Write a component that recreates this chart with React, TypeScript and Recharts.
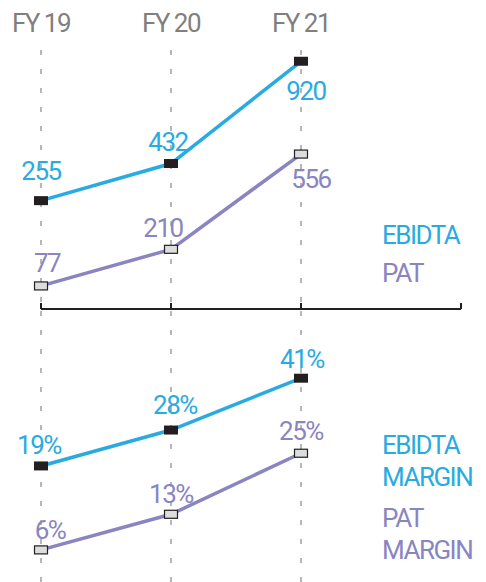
import React from "react"
import {
  LineChart,
  Line,
  XAxis,
  YAxis,
  ReferenceLine,
  Legend,
  LabelList,
} from "recharts"

const years = ["FY 19", "FY 20", "FY 21"]
const ebidta = [255, 432, 920]
const pat = [77, 210, 556]
const ebidtaMargin = [19, 28, 41]
const patMargin = [6, 13, 25]

const BLUE = "#29abe2"
const PURPLE = "#8985c1"
const INK = "#231f20"
const FONT = "Roboto, 'Noto Sans', sans-serif"
// x runs 0..2 for the three years, the bracket line goes a bit further right
const X_END = 420 / 130

const topData = years.map((year, i) => ({ i, year, ebidta: ebidta[i], pat: pat[i] }))
const bottomData = years.map((year, i) => ({
  i,
  year,
  ebidtaMargin: ebidtaMargin[i],
  patMargin: patMargin[i],
}))

const DarkDot = (props: any) => {
  const { cx, cy } = props
  if (cx == null || cy == null) return null
  return <rect x={cx - 7} y={cy - 4.5} width={14} height={9} fill={INK} />
}

const LightDot = (props: any) => {
  const { cx, cy } = props
  if (cx == null || cy == null) return null
  return (
    <rect
      x={cx - 6.5}
      y={cy - 4}
      width={13}
      height={8}
      fill="#dcdddd"
      stroke={INK}
      strokeWidth={1.2}
    />
  )
}

// per-point label nudges relative to the marker (negative dy = above)
const makeLabel =
  (color: string, values: number[], dy: number[], dx: number[], suffix = "") =>
  (props: any) => {
    const vb = props.viewBox || props
    const x = vb.x ?? props.x
    const y = vb.y ?? props.y
    const idx = values.indexOf(Number(props.value))
    return (
      <text
        x={x + (dx[idx] || 0)}
        y={y + (dy[idx] ?? -22)}
        fill={color}
        fontSize={26}
        fontFamily={FONT}
        letterSpacing={-1.5}
        textAnchor="middle"
        dominantBaseline="central"
      >
        {props.value}
        {suffix}
      </text>
    )
  }

const makeLegend = (lineHeight: number, gap: number) => (props: any) => (
  <div
    style={{
      fontFamily: FONT,
      fontSize: 26,
      letterSpacing: -1.5,
      lineHeight: `${lineHeight}px`,
      textAlign: "left",
    }}
  >
    {(props.payload || []).map((p: any, k: number) => (
      <div key={k} style={{ color: p.color, marginTop: k ? gap : 0 }}>
        {String(p.value)
          .split(" ")
          .map((w, j) => (
            <div key={j}>{w}</div>
          ))}
      </div>
    ))}
  </div>
)

const yearLines = (xAxisId: string, yAxisId: string) =>
  years.map((_, i) => (
    <ReferenceLine
      key={i}
      x={i}
      xAxisId={xAxisId}
      yAxisId={yAxisId}
      stroke="#6d6e71"
      strokeDasharray="5 14"
    />
  ))

export default function App() {
  return (
    <div style={{ position: "absolute", left: 0, top: 0, width: 486, height: 582 }}>
      <div style={{ position: "absolute", left: 0, top: 0 }}>
        <LineChart
          width={486}
          height={312}
          data={topData}
          margin={{ top: 0, right: 25, bottom: 3, left: 41 }}
        >
          <XAxis
            xAxisId="top"
            orientation="top"
            dataKey="i"
            type="number"
            domain={[0, X_END]}
            ticks={[0, 1, 2]}
            interval={0}
            height={50}
            axisLine={false}
            tickLine={false}
            tickSize={8}
            tickMargin={10}
            tick={{ fill: "#7f7f7f", fontSize: 26, fontFamily: FONT, letterSpacing: -1.5 }}
            tickFormatter={(i) => years[i] ?? ""}
          />
          <XAxis
            xAxisId="bracket"
            orientation="bottom"
            dataKey="i"
            type="number"
            domain={[0, X_END]}
            ticks={[0, 1, 2, X_END]}
            interval={0}
            mirror
            tick={() => <g />}
            tickSize={6}
            tickLine={{ stroke: INK, strokeWidth: 2 }}
            axisLine={{ stroke: INK, strokeWidth: 2.2 }}
          />
          <YAxis yAxisId="ebidta" hide domain={[-262, 973.7]} allowDataOverflow />
          <YAxis yAxisId="pat" hide domain={[-6.8, 934]} allowDataOverflow />
          {yearLines("top", "ebidta")}
          <Legend
            layout="vertical"
            align="center"
            verticalAlign="middle"
            content={makeLegend(38, 0)}
            wrapperStyle={{ left: 382, top: 216, width: 100 }}
          />
          <Line
            xAxisId="top"
            yAxisId="ebidta"
            dataKey="ebidta"
            name="EBIDTA"
            type="linear"
            stroke={BLUE}
            strokeWidth={3.5}
            dot={DarkDot}
            activeDot={false}
            isAnimationActive={false}
          >
            <LabelList
              dataKey="ebidta"
              content={makeLabel(BLUE, ebidta, [-30, -22, 30], [0, -3, 5])}
            />
          </Line>
          <Line
            xAxisId="top"
            yAxisId="pat"
            dataKey="pat"
            name="PAT"
            type="linear"
            stroke={PURPLE}
            strokeWidth={3.5}
            dot={LightDot}
            activeDot={false}
            isAnimationActive={false}
          >
            <LabelList
              dataKey="pat"
              content={makeLabel(PURPLE, pat, [-23, -21, 25], [6, -8, 10])}
            />
          </Line>
        </LineChart>
      </div>
      <div style={{ position: "absolute", left: 0, top: 309 }}>
        <LineChart
          width={486}
          height={273}
          data={bottomData}
          margin={{ top: 0, right: 25, bottom: 0, left: 41 }}
        >
          <XAxis
            xAxisId="b"
            hide
            dataKey="i"
            type="number"
            domain={[0, X_END]}
            ticks={[0, 1, 2]}
            interval={0}
          />
          <YAxis yAxisId="em" hide domain={[-10.1, 58.35]} allowDataOverflow />
          <YAxis yAxisId="pm" hide domain={[-0.31, 53.35]} allowDataOverflow />
          {yearLines("b", "em")}
          <Legend
            layout="vertical"
            align="center"
            verticalAlign="middle"
            content={makeLegend(31.5, 10)}
            wrapperStyle={{ left: 382, top: 121, width: 100 }}
          />
          <Line
            xAxisId="b"
            yAxisId="em"
            dataKey="ebidtaMargin"
            name="EBIDTA MARGIN"
            type="linear"
            stroke={BLUE}
            strokeWidth={3.5}
            dot={DarkDot}
            activeDot={false}
            isAnimationActive={false}
          >
            <LabelList
              dataKey="ebidtaMargin"
              content={makeLabel(BLUE, ebidtaMargin, [-21, -25, -19], [-2, 4, 1], "%")}
            />
          </Line>
          <Line
            xAxisId="b"
            yAxisId="pm"
            dataKey="patMargin"
            name="PAT MARGIN"
            type="linear"
            stroke={PURPLE}
            strokeWidth={3.5}
            dot={LightDot}
            activeDot={false}
            isAnimationActive={false}
          >
            <LabelList
              dataKey="patMargin"
              content={makeLabel(PURPLE, patMargin, [-20, -20, -22], [9, 0, 0], "%")}
            />
          </Line>
        </LineChart>
      </div>
    </div>
  )
}
